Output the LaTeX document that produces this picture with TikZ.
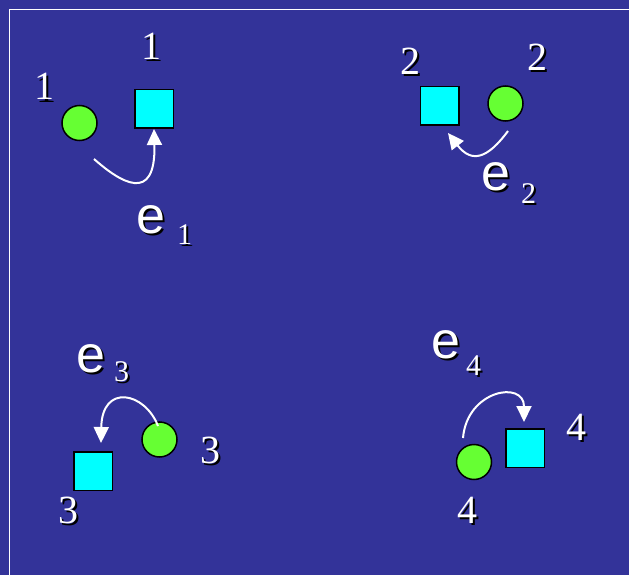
\documentclass[tikz,border=0pt]{standalone}
\usepackage{fontspec}
\setmainfont{Liberation Serif}
\newfontfamily\efont{Liberation Sans}
\usetikzlibrary{arrows.meta}
\definecolor{bgblue}{HTML}{333399}
\definecolor{dotgreen}{HTML}{66FF33}
\definecolor{boxcyan}{HTML}{00FFFF}
\newcommand\shtext[1]{\makebox[0pt][l]{\hspace{2pt}\raisebox{-2pt}{\color{black}#1}}#1}
\tikzset{
  dig/.style={text=white, font=\fontsize{40}{40}\selectfont, inner sep=0pt, anchor=base},
  subdig/.style={text=white, font=\fontsize{30}{30}\selectfont, inner sep=0pt, anchor=base west},
  evar/.style={text=white, font=\efont\fontsize{52}{52}\selectfont, inner sep=0pt, anchor=base west},
  dot/.style={circle, draw=black, line width=1.5pt, fill=dotgreen, minimum size=35pt, inner sep=0pt},
  box/.style={rectangle, draw=black, line width=1.5pt, fill=boxcyan, minimum size=38.5pt, inner sep=0pt},
  link/.style={white, line width=2pt, -{Triangle[length=16pt,width=15pt]}}
}
\begin{document}
\begin{tikzpicture}[x=1pt,y=-1pt]
\fill[bgblue] (0,0) rectangle (629,575);
\useasboundingbox (0,0) rectangle (629,575);
\draw[white, line width=1.5pt] (9.5,575) -- (9.5,9.5) -- (629,9.5);

% group 1
\node[dot] (c1) at (79.5,123) {};
\node[box] (b1) at (154,109) {};
\node[dig] (l1a) at (44,100) {\shtext{1}};
\node[dig] (l1b) at (151,60) {\shtext{1}};
\node[evar] (e1) at (136,233) {\shtext{e}};
\node[subdig] (s1) at (177,244) {\shtext{1}};
\coordinate (a1) at (94,159);
\draw[link] (a1) .. controls (120,182) and (156,205) .. (b1.south);

% group 2
\node[box] (b2) at (439.5,106) {};
\node[dot] (c2) at (505.5,103.5) {};
\node[dig] (l2a) at (410,75) {\shtext{2}};
\node[dig] (l2b) at (537,71) {\shtext{2}};
\node[evar] (e2) at (481,190) {\shtext{e}};
\node[subdig] (s2) at (521,203) {\shtext{2}};
\coordinate (a2) at (508,131);
\coordinate (t2) at (448,133);
\draw[link] (a2) .. controls (488,158) and (472,164) .. (t2);

% group 3
\node[dot] (c3) at (159.5,439.5) {};
\node[box] (b3) at (93,471) {};
\node[dig] (l3a) at (210,463) {\shtext{3}};
\node[dig] (l3b) at (68,523) {\shtext{3}};
\node[evar] (e3) at (76,372) {\shtext{e}};
\node[subdig] (s3) at (114,381) {\shtext{3}};
\coordinate (a3) at (158,426);
\coordinate (t3) at (101,443);
\draw[link] (a3) .. controls (145,392) and (102,383) .. (t3);

% group 4
\node[dot] (c4) at (474,462) {};
\node[box] (b4) at (525,448) {};
\node[dig] (l4a) at (576,440) {\shtext{4}};
\node[dig] (l4b) at (467,523) {\shtext{4}};
\node[evar] (e4) at (431,358) {\shtext{e}};
\node[subdig] (s4) at (466,375) {\shtext{4}};
\coordinate (a4) at (463,438);
\coordinate (t4) at (524,422);
\draw[link] (a4) .. controls (467,390) and (524,380) .. (t4);
\end{tikzpicture}
\end{document}
